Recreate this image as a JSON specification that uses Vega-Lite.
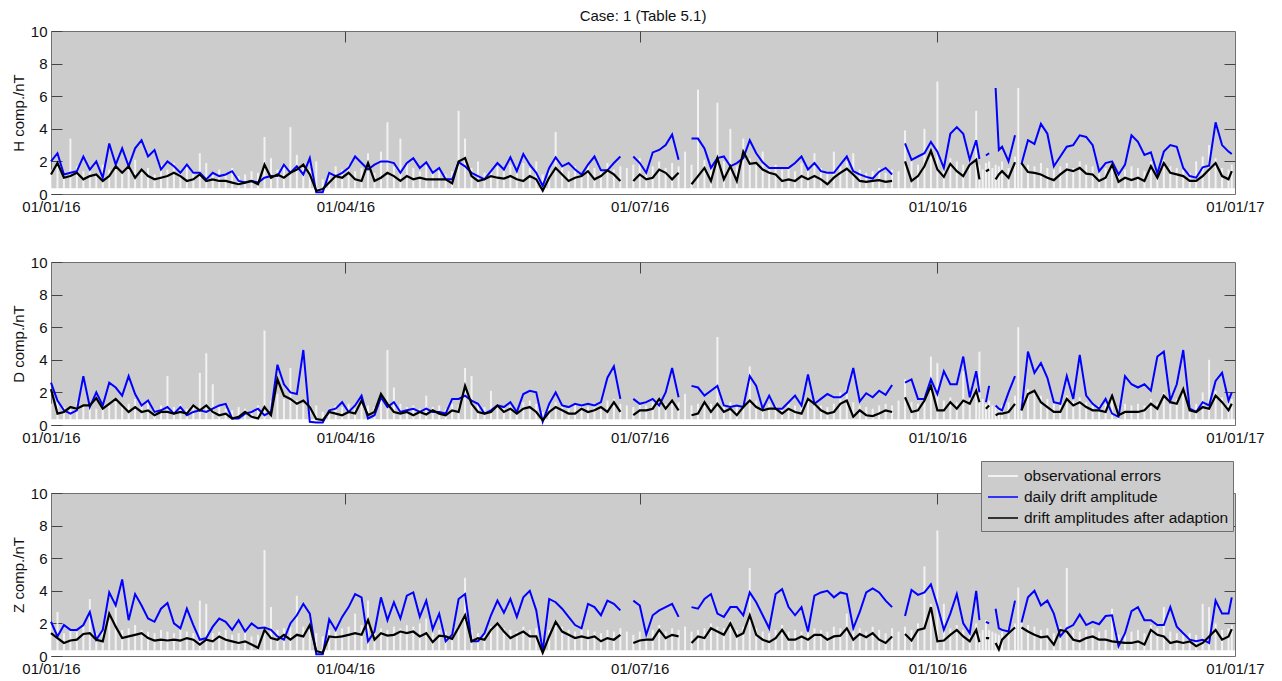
{
  "$schema": "https://vega.github.io/schema/vega-lite/v6.json",
  "background": "white",
  "padding": {"left": 10, "top": 8, "right": 5, "bottom": 5},
  "bounds": "flush",
  "spacing": 68,
  "config": {
    "font": "Liberation Sans",
    "view": {"fill": "#cccccc", "stroke": "#707070", "strokeWidth": 1},
    "axis": {"labelFont": "Liberation Sans", "labelFontSize": 15, "labelColor": "#111111", "titleFont": "Liberation Sans", "titleFontSize": 15, "titleFontWeight": "normal", "titleColor": "#111111", "tickColor": "#444444", "tickWidth": 1, "grid": false, "domain": false},
    "legend": {"orient": "none", "legendX": 930, "legendY": -32, "fillColor": "#cccccc", "strokeColor": "#707070", "padding": 4, "symbolType": "M-1.5,0H1.5", "symbolSize": 400, "symbolStrokeWidth": 2, "symbolOffset": 7, "labelOffset": 10, "labelLimit": 0, "labelFont": "Liberation Sans", "labelFontSize": 15.5, "labelColor": "#111111", "rowPadding": 1, "cornerRadius": 0}
  },
  "resolve": {"scale": {"color": "independent"}, "legend": {"color": "independent"}},
  "data": {"values": [
    {"d":0,"hB":2.0,"hA":1.2,"hE":1.5,"dB":2.6,"dA":2.2,"dE":1.3,"zB":2.1,"zA":1.4,"zE":2.0},
    {"d":2,"hB":2.5,"hA":1.9,"hE":1.9,"dB":1.5,"dA":0.7,"dE":1.6,"zB":1.2,"zA":1.1,"zE":2.7},
    {"d":4,"hB":1.2,"hA":1.0,"hE":1.3,"dB":0.9,"dA":0.8,"dE":1.1,"zB":1.9,"zA":0.8,"zE":1.4},
    {"d":6,"hB":1.3,"hA":1.1,"hE":3.4,"dB":0.7,"dA":1.1,"dE":1.2,"zB":1.6,"zA":0.95,"zE":1.6},
    {"d":8,"hB":1.4,"hA":1.3,"hE":1.7,"dB":0.9,"dA":1.0,"dE":1.4,"zB":1.6,"zA":1.0,"zE":1.5},
    {"d":10,"hB":2.3,"hA":0.9,"hE":1.4,"dB":3.0,"dA":1.2,"dE":1.2,"zB":1.9,"zA":1.35,"zE":1.8},
    {"d":12,"hB":1.5,"hA":1.1,"hE":1.6,"dB":1.1,"dA":1.2,"dE":1.3,"zB":2.7,"zA":1.4,"zE":3.5},
    {"d":14,"hB":2.0,"hA":1.2,"hE":1.2,"dB":2.0,"dA":1.65,"dE":1.0,"zB":1.0,"zA":1.0,"zE":1.4},
    {"d":16,"hB":1.0,"hA":0.8,"hE":1.8,"dB":1.2,"dA":1.0,"dE":1.4,"zB":1.6,"zA":0.9,"zE":1.5},
    {"d":18,"hB":3.1,"hA":1.1,"hE":1.5,"dB":2.6,"dA":1.3,"dE":1.2,"zB":3.9,"zA":2.6,"zE":2.2},
    {"d":20,"hB":1.8,"hA":1.7,"hE":1.9,"dB":2.3,"dA":1.6,"dE":1.5,"zB":3.1,"zA":1.8,"zE":3.2},
    {"d":22,"hB":2.8,"hA":1.3,"hE":1.3,"dB":1.8,"dA":1.2,"dE":1.1,"zB":4.7,"zA":1.1,"zE":1.6},
    {"d":24,"hB":1.7,"hA":1.7,"hE":1.7,"dB":3.0,"dA":0.8,"dE":1.3,"zB":2.2,"zA":1.2,"zE":1.7},
    {"d":26,"hB":2.8,"hA":1.0,"hE":2.1,"dB":1.9,"dA":1.1,"dE":1.6,"zB":3.8,"zA":1.3,"zE":1.9},
    {"d":28,"hB":3.3,"hA":1.5,"hE":1.4,"dB":1.2,"dA":0.8,"dE":1.2,"zB":3.1,"zA":1.4,"zE":1.6},
    {"d":30,"hB":2.3,"hA":1.1,"hE":1.6,"dB":1.5,"dA":0.9,"dE":1.4,"zB":2.3,"zA":1.1,"zE":1.5},
    {"d":32,"hB":2.7,"hA":0.9,"hE":1.2,"dB":0.8,"dA":0.6,"dE":1.0,"zB":2.1,"zA":0.95,"zE":1.4},
    {"d":34,"hB":1.5,"hA":1.0,"hE":1.8,"dB":0.9,"dA":0.8,"dE":1.2,"zB":2.9,"zA":1.0,"zE":1.6},
    {"d":36,"hB":2.0,"hA":1.1,"hE":1.5,"dB":1.1,"dA":0.8,"dE":3.0,"zB":3.25,"zA":0.95,"zE":1.5},
    {"d":38,"hB":1.7,"hA":1.3,"hE":1.9,"dB":0.7,"dA":0.7,"dE":1.1,"zB":2.0,"zA":1.0,"zE":1.4},
    {"d":40,"hB":1.3,"hA":1.1,"hE":1.3,"dB":1.1,"dA":0.8,"dE":1.3,"zB":1.7,"zA":0.95,"zE":1.6},
    {"d":42,"hB":1.8,"hA":0.8,"hE":1.7,"dB":0.6,"dA":0.7,"dE":1.0,"zB":2.9,"zA":1.1,"zE":1.5},
    {"d":44,"hB":1.3,"hA":0.9,"hE":1.4,"dB":0.8,"dA":1.2,"dE":1.2,"zB":1.9,"zA":1.0,"zE":1.4},
    {"d":46,"hB":1.3,"hA":1.2,"hE":2.5,"dB":0.9,"dA":0.9,"dE":3.2,"zB":1.0,"zA":0.7,"zE":3.4},
    {"d":48,"hB":0.9,"hA":0.8,"hE":1.9,"dB":0.8,"dA":1.2,"dE":4.4,"zB":1.1,"zA":1.0,"zE":3.2},
    {"d":50,"hB":1.3,"hA":0.9,"hE":1.2,"dB":1.0,"dA":0.8,"dE":2.5,"zB":1.8,"zA":0.9,"zE":1.4},
    {"d":52,"hB":1.1,"hA":0.8,"hE":1.5,"dB":1.2,"dA":0.6,"dE":1.1,"zB":2.3,"zA":1.2,"zE":1.5},
    {"d":54,"hB":1.2,"hA":0.8,"hE":1.3,"dB":1.3,"dA":0.7,"dE":1.0,"zB":2.1,"zA":1.0,"zE":1.6},
    {"d":56,"hB":1.4,"hA":0.7,"hE":1.6,"dB":0.4,"dA":0.4,"dE":0.9,"zB":1.6,"zA":0.9,"zE":1.3},
    {"d":58,"hB":0.8,"hA":0.6,"hE":1.1,"dB":0.4,"dA":0.5,"dE":1.1,"zB":2.2,"zA":0.8,"zE":1.4},
    {"d":60,"hB":0.7,"hA":0.7,"hE":1.2,"dB":0.7,"dA":0.8,"dE":1.0,"zB":1.5,"zA":0.9,"zE":1.5},
    {"d":62,"hB":0.8,"hA":0.8,"hE":1.4,"dB":0.8,"dA":0.5,"dE":0.9,"zB":2.0,"zA":0.7,"zE":1.2},
    {"d":64,"hB":0.7,"hA":0.6,"hE":1.3,"dB":1.0,"dA":0.4,"dE":1.2,"zB":1.7,"zA":0.5,"zE":1.3},
    {"d":66,"hB":1.0,"hA":1.8,"hE":3.5,"dB":0.6,"dA":1.1,"dE":5.8,"zB":1.75,"zA":1.6,"zE":6.5},
    {"d":68,"hB":1.1,"hA":1.0,"hE":2.2,"dB":0.8,"dA":0.6,"dE":1.5,"zB":1.6,"zA":1.1,"zE":3.0},
    {"d":70,"hB":1.1,"hA":1.2,"hE":1.5,"dB":3.7,"dA":2.8,"dE":1.9,"zB":1.2,"zA":1.0,"zE":1.6},
    {"d":72,"hB":1.8,"hA":1.0,"hE":1.8,"dB":2.5,"dA":1.8,"dE":1.6,"zB":1.0,"zA":1.3,"zE":1.7},
    {"d":74,"hB":1.3,"hA":1.3,"hE":4.1,"dB":2.0,"dA":1.6,"dE":3.5,"zB":2.0,"zA":1.0,"zE":1.8},
    {"d":76,"hB":1.7,"hA":1.5,"hE":2.4,"dB":1.9,"dA":1.3,"dE":1.5,"zB":2.5,"zA":1.3,"zE":3.7},
    {"d":78,"hB":1.2,"hA":1.8,"hE":1.6,"dB":4.6,"dA":1.5,"dE":1.3,"zB":3.2,"zA":1.2,"zE":1.8},
    {"d":80,"hB":2.2,"hA":1.2,"hE":1.5,"dB":0.2,"dA":1.1,"dE":1.2,"zB":2.6,"zA":1.9,"zE":2.0},
    {"d":82,"hB":0.1,"hA":0.2,"hE":2.0,"dB":0.15,"dA":0.37,"dE":1.2,"zB":0.1,"zA":0.3,"zE":1.4},
    {"d":84,"hB":0.1,"hA":0.3,"hE":0.9,"dB":0.15,"dA":0.3,"dE":0.8,"zB":0.1,"zA":0.2,"zE":1.2},
    {"d":86,"hB":1.3,"hA":0.7,"hE":1.3,"dB":0.9,"dA":0.8,"dE":1.0,"zB":2.25,"zA":1.2,"zE":1.6},
    {"d":88,"hB":1.1,"hA":1.1,"hE":1.7,"dB":1.0,"dA":0.7,"dE":1.2,"zB":1.6,"zA":1.15,"zE":1.5},
    {"d":90,"hB":1.3,"hA":1.0,"hE":1.5,"dB":1.4,"dA":0.6,"dE":1.1,"zB":2.4,"zA":1.2,"zE":1.7},
    {"d":92,"hB":1.6,"hA":1.3,"hE":1.8,"dB":0.8,"dA":0.8,"dE":1.3,"zB":3.0,"zA":1.3,"zE":1.8},
    {"d":94,"hB":2.3,"hA":0.9,"hE":1.4,"dB":1.2,"dA":0.7,"dE":1.0,"zB":3.8,"zA":1.4,"zE":2.6},
    {"d":96,"hB":1.9,"hA":0.8,"hE":1.6,"dB":1.8,"dA":1.5,"dE":1.5,"zB":3.6,"zA":1.3,"zE":1.9},
    {"d":98,"hB":1.5,"hA":1.9,"hE":2.5,"dB":0.4,"dA":0.6,"dE":1.2,"zB":0.9,"zA":2.2,"zE":3.4},
    {"d":100,"hB":1.8,"hA":0.8,"hE":1.3,"dB":0.6,"dA":0.8,"dE":1.1,"zB":1.5,"zA":1.0,"zE":1.5},
    {"d":102,"hB":2.0,"hA":1.0,"hE":2.6,"dB":1.7,"dA":1.9,"dE":1.5,"zB":3.6,"zA":1.4,"zE":1.7},
    {"d":104,"hB":2.0,"hA":1.3,"hE":4.4,"dB":1.1,"dA":1.3,"dE":4.6,"zB":2.2,"zA":1.25,"zE":1.6},
    {"d":106,"hB":1.9,"hA":1.1,"hE":1.7,"dB":1.4,"dA":0.8,"dE":2.3,"zB":3.3,"zA":1.3,"zE":1.8},
    {"d":108,"hB":1.3,"hA":0.8,"hE":3.4,"dB":0.8,"dA":0.7,"dE":1.3,"zB":2.3,"zA":1.5,"zE":1.7},
    {"d":110,"hB":1.9,"hA":1.1,"hE":2.0,"dB":0.9,"dA":0.8,"dE":1.1,"zB":3.7,"zA":1.4,"zE":1.9},
    {"d":112,"hB":2.2,"hA":0.9,"hE":1.6,"dB":1.0,"dA":0.6,"dE":1.2,"zB":3.9,"zA":1.5,"zE":1.8},
    {"d":114,"hB":1.6,"hA":1.0,"hE":1.4,"dB":0.8,"dA":0.8,"dE":1.0,"zB":2.4,"zA":1.2,"zE":2.0},
    {"d":116,"hB":1.95,"hA":0.9,"hE":1.8,"dB":1.0,"dA":0.65,"dE":1.8,"zB":3.4,"zA":1.4,"zE":2.3},
    {"d":118,"hB":1.3,"hA":0.9,"hE":1.3,"dB":0.8,"dA":0.9,"dE":1.1,"zB":1.65,"zA":0.85,"zE":1.4},
    {"d":120,"hB":1.6,"hA":0.9,"hE":1.5,"dB":0.8,"dA":0.7,"dE":1.2,"zB":2.6,"zA":1.25,"zE":1.6},
    {"d":122,"hB":0.9,"hA":0.9,"hE":1.2,"dB":0.7,"dA":0.6,"dE":1.0,"zB":0.9,"zA":1.2,"zE":1.5},
    {"d":124,"hB":0.9,"hA":0.65,"hE":1.4,"dB":1.6,"dA":0.9,"dE":1.3,"zB":1.3,"zA":1.05,"zE":1.4},
    {"d":126,"hB":1.95,"hA":2.0,"hE":5.1,"dB":1.6,"dA":0.8,"dE":1.2,"zB":3.5,"zA":1.75,"zE":1.8},
    {"d":128,"hB":1.7,"hA":2.2,"hE":3.4,"dB":1.8,"dA":2.4,"dE":3.5,"zB":3.8,"zA":2.5,"zE":4.8},
    {"d":130,"hB":1.3,"hA":1.1,"hE":1.6,"dB":1.5,"dA":1.3,"dE":3.0,"zB":0.9,"zA":0.9,"zE":1.6},
    {"d":132,"hB":1.1,"hA":0.8,"hE":2.0,"dB":1.3,"dA":0.8,"dE":1.3,"zB":0.9,"zA":1.1,"zE":1.4},
    {"d":134,"hB":0.9,"hA":0.9,"hE":1.3,"dB":0.7,"dA":0.7,"dE":1.1,"zB":1.4,"zA":1.0,"zE":1.5},
    {"d":136,"hB":1.4,"hA":1.1,"hE":1.5,"dB":0.9,"dA":0.8,"dE":2.1,"zB":2.5,"zA":1.6,"zE":1.8},
    {"d":138,"hB":1.9,"hA":1.0,"hE":1.7,"dB":1.2,"dA":1.2,"dE":1.3,"zB":3.4,"zA":2.0,"zE":2.0},
    {"d":140,"hB":1.5,"hA":0.95,"hE":1.4,"dB":1.1,"dA":0.8,"dE":1.1,"zB":2.65,"zA":1.5,"zE":1.7},
    {"d":142,"hB":2.25,"hA":1.1,"hE":1.8,"dB":1.4,"dA":1.0,"dE":1.2,"zB":3.5,"zA":1.1,"zE":1.6},
    {"d":144,"hB":1.4,"hA":0.9,"hE":1.3,"dB":0.8,"dA":0.7,"dE":1.0,"zB":2.4,"zA":1.3,"zE":1.5},
    {"d":146,"hB":2.45,"hA":0.8,"hE":1.9,"dB":1.9,"dA":1.0,"dE":1.4,"zB":3.6,"zA":1.5,"zE":1.8},
    {"d":148,"hB":1.8,"hA":1.1,"hE":1.6,"dB":2.1,"dA":1.1,"dE":1.5,"zB":4.0,"zA":1.2,"zE":1.6},
    {"d":150,"hB":1.3,"hA":0.9,"hE":2.0,"dB":2.0,"dA":0.8,"dE":1.3,"zB":2.8,"zA":1.2,"zE":1.7},
    {"d":152,"hB":0.5,"hA":0.2,"hE":1.2,"dB":0.2,"dA":0.3,"dE":0.8,"zB":0.3,"zA":0.2,"zE":0.9},
    {"d":154,"hB":1.6,"hA":1.0,"hE":1.5,"dB":1.3,"dA":0.8,"dE":1.2,"zB":3.5,"zA":1.2,"zE":1.6},
    {"d":156,"hB":2.25,"hA":1.6,"hE":3.8,"dB":2.0,"dA":1.1,"dE":1.4,"zB":3.3,"zA":2.1,"zE":2.2},
    {"d":158,"hB":1.7,"hA":1.2,"hE":1.6,"dB":1.2,"dA":0.9,"dE":1.2,"zB":2.9,"zA":1.5,"zE":1.8},
    {"d":160,"hB":1.9,"hA":0.8,"hE":1.4,"dB":1.1,"dA":0.7,"dE":1.1,"zB":2.4,"zA":1.3,"zE":1.6},
    {"d":162,"hB":1.5,"hA":1.0,"hE":1.7,"dB":1.3,"dA":0.7,"dE":1.3,"zB":1.9,"zA":1.1,"zE":1.5},
    {"d":164,"hB":1.2,"hA":1.1,"hE":1.3,"dB":1.2,"dA":1.0,"dE":1.2,"zB":1.7,"zA":1.2,"zE":1.7},
    {"d":166,"hB":1.8,"hA":1.4,"hE":1.8,"dB":1.3,"dA":0.8,"dE":1.1,"zB":3.2,"zA":1.1,"zE":1.6},
    {"d":168,"hB":2.3,"hA":0.9,"hE":1.6,"dB":1.2,"dA":0.9,"dE":1.3,"zB":3.0,"zA":1.2,"zE":1.5},
    {"d":170,"hB":1.45,"hA":1.1,"hE":1.4,"dB":1.4,"dA":1.1,"dE":1.2,"zB":2.5,"zA":0.9,"zE":1.4},
    {"d":172,"hB":1.45,"hA":1.45,"hE":1.9,"dB":2.9,"dA":0.8,"dE":1.5,"zB":3.4,"zA":1.1,"zE":1.6},
    {"d":174,"hB":1.9,"hA":1.2,"hE":1.5,"dB":3.6,"dA":1.4,"dE":1.6,"zB":3.2,"zA":1.0,"zE":1.5},
    {"d":176,"hB":2.3,"hA":0.8,"hE":1.7,"dB":1.6,"dA":0.8,"dE":1.3,"zB":2.8,"zA":1.3,"zE":1.7},
    {"d":178,"hB":null,"hA":null,"hE":1.6,"dB":null,"dA":null,"dE":1.2,"zB":null,"zA":null,"zE":1.5},
    {"d":180,"hB":2.3,"hA":0.8,"hE":1.8,"dB":1.6,"dA":0.6,"dE":1.1,"zB":3.4,"zA":0.8,"zE":1.3},
    {"d":182,"hB":1.9,"hA":1.2,"hE":2.2,"dB":1.3,"dA":0.9,"dE":1.3,"zB":3.1,"zA":0.95,"zE":1.5},
    {"d":184,"hB":1.3,"hA":0.9,"hE":1.5,"dB":1.4,"dA":0.9,"dE":1.2,"zB":1.3,"zA":1.0,"zE":1.4},
    {"d":186,"hB":2.55,"hA":1.0,"hE":1.7,"dB":1.6,"dA":1.0,"dE":1.4,"zB":2.5,"zA":1.0,"zE":1.6},
    {"d":188,"hB":2.7,"hA":1.5,"hE":2.0,"dB":1.2,"dA":1.6,"dE":1.7,"zB":2.8,"zA":1.6,"zE":1.9},
    {"d":190,"hB":3.0,"hA":1.3,"hE":1.6,"dB":2.0,"dA":1.0,"dE":1.3,"zB":3.0,"zA":1.1,"zE":1.5},
    {"d":192,"hB":3.65,"hA":0.9,"hE":1.9,"dB":3.5,"dA":1.5,"dE":1.5,"zB":3.2,"zA":1.3,"zE":1.7},
    {"d":194,"hB":2.1,"hA":1.3,"hE":1.7,"dB":1.7,"dA":0.9,"dE":1.4,"zB":2.4,"zA":1.2,"zE":1.6},
    {"d":196,"hB":null,"hA":null,"hE":2.6,"dB":null,"dA":null,"dE":1.9,"zB":null,"zA":null,"zE":1.8},
    {"d":198,"hB":3.4,"hA":0.6,"hE":1.8,"dB":2.4,"dA":0.6,"dE":1.2,"zB":3.0,"zA":0.8,"zE":1.5},
    {"d":200,"hB":3.4,"hA":1.1,"hE":6.4,"dB":2.3,"dA":0.7,"dE":1.3,"zB":2.9,"zA":1.2,"zE":1.6},
    {"d":202,"hB":2.8,"hA":1.6,"hE":2.1,"dB":1.8,"dA":1.4,"dE":1.5,"zB":3.5,"zA":1.1,"zE":1.7},
    {"d":204,"hB":1.6,"hA":0.8,"hE":1.6,"dB":2.1,"dA":0.8,"dE":1.3,"zB":3.8,"zA":1.7,"zE":2.0},
    {"d":206,"hB":2.2,"hA":2.2,"hE":5.6,"dB":2.4,"dA":1.3,"dE":5.4,"zB":2.6,"zA":1.5,"zE":1.8},
    {"d":208,"hB":2.3,"hA":0.9,"hE":2.0,"dB":1.2,"dA":0.8,"dE":1.2,"zB":2.4,"zA":1.3,"zE":1.7},
    {"d":210,"hB":1.7,"hA":1.7,"hE":4.0,"dB":1.1,"dA":1.0,"dE":1.4,"zB":3.0,"zA":2.0,"zE":2.2},
    {"d":212,"hB":1.9,"hA":0.8,"hE":1.7,"dB":1.2,"dA":0.6,"dE":1.1,"zB":3.0,"zA":1.2,"zE":1.6},
    {"d":214,"hB":2.2,"hA":2.6,"hE":3.4,"dB":1.1,"dA":1.1,"dE":1.3,"zB":2.5,"zA":1.4,"zE":1.8},
    {"d":216,"hB":3.3,"hA":1.85,"hE":2.2,"dB":3.0,"dA":1.5,"dE":3.6,"zB":3.9,"zA":2.5,"zE":5.4},
    {"d":218,"hB":2.5,"hA":1.9,"hE":1.9,"dB":2.4,"dA":1.1,"dE":1.5,"zB":3.3,"zA":1.3,"zE":1.7},
    {"d":220,"hB":1.95,"hA":1.5,"hE":2.6,"dB":1.0,"dA":0.9,"dE":1.2,"zB":2.5,"zA":1.0,"zE":1.5},
    {"d":222,"hB":1.6,"hA":1.3,"hE":1.6,"dB":1.8,"dA":1.0,"dE":1.3,"zB":1.7,"zA":0.85,"zE":1.4},
    {"d":224,"hB":1.6,"hA":1.2,"hE":1.8,"dB":1.0,"dA":1.0,"dE":1.2,"zB":3.8,"zA":1.1,"zE":1.6},
    {"d":226,"hB":1.6,"hA":0.8,"hE":1.5,"dB":1.0,"dA":0.7,"dE":1.1,"zB":4.1,"zA":1.6,"zE":1.9},
    {"d":228,"hB":1.6,"hA":0.9,"hE":1.7,"dB":1.4,"dA":1.0,"dE":1.3,"zB":3.0,"zA":1.0,"zE":1.5},
    {"d":230,"hB":1.9,"hA":0.8,"hE":1.4,"dB":1.8,"dA":0.8,"dE":1.2,"zB":2.5,"zA":1.0,"zE":1.6},
    {"d":232,"hB":2.3,"hA":1.1,"hE":1.9,"dB":1.2,"dA":0.7,"dE":1.1,"zB":3.0,"zA":1.2,"zE":1.5},
    {"d":234,"hB":1.5,"hA":0.9,"hE":1.5,"dB":3.1,"dA":1.6,"dE":1.6,"zB":1.5,"zA":1.0,"zE":1.4},
    {"d":236,"hB":1.9,"hA":1.1,"hE":2.5,"dB":1.3,"dA":1.3,"dE":1.4,"zB":3.7,"zA":1.3,"zE":1.7},
    {"d":238,"hB":1.4,"hA":0.9,"hE":1.6,"dB":1.6,"dA":0.9,"dE":1.2,"zB":3.9,"zA":1.3,"zE":1.6},
    {"d":240,"hB":1.3,"hA":0.6,"hE":1.4,"dB":1.9,"dA":0.7,"dE":1.1,"zB":4.0,"zA":1.0,"zE":1.5},
    {"d":242,"hB":1.3,"hA":1.0,"hE":2.6,"dB":1.7,"dA":0.8,"dE":1.3,"zB":3.6,"zA":1.2,"zE":1.8},
    {"d":244,"hB":1.8,"hA":1.3,"hE":1.7,"dB":1.7,"dA":1.3,"dE":2.0,"zB":3.9,"zA":1.25,"zE":1.7},
    {"d":246,"hB":2.3,"hA":1.55,"hE":2.0,"dB":2.0,"dA":1.5,"dE":2.3,"zB":3.8,"zA":1.7,"zE":2.6},
    {"d":248,"hB":1.4,"hA":1.2,"hE":2.5,"dB":3.5,"dA":0.5,"dE":1.4,"zB":1.7,"zA":1.0,"zE":1.6},
    {"d":250,"hB":1.2,"hA":0.8,"hE":1.5,"dB":1.45,"dA":0.9,"dE":1.2,"zB":2.7,"zA":1.35,"zE":1.7},
    {"d":252,"hB":1.05,"hA":0.75,"hE":1.3,"dB":1.95,"dA":0.6,"dE":1.1,"zB":3.9,"zA":1.15,"zE":1.5},
    {"d":254,"hB":0.95,"hA":0.8,"hE":1.4,"dB":1.7,"dA":0.55,"dE":1.0,"zB":4.15,"zA":1.4,"zE":1.8},
    {"d":256,"hB":1.37,"hA":0.85,"hE":1.6,"dB":2.1,"dA":0.7,"dE":1.2,"zB":3.9,"zA":1.0,"zE":1.6},
    {"d":258,"hB":1.6,"hA":0.75,"hE":1.3,"dB":1.85,"dA":0.9,"dE":1.3,"zB":3.4,"zA":0.8,"zE":1.4},
    {"d":260,"hB":1.2,"hA":0.8,"hE":1.5,"dB":2.45,"dA":0.8,"dE":1.2,"zB":3.0,"zA":1.2,"zE":1.7},
    {"d":262,"hB":null,"hA":null,"hE":1.4,"dB":null,"dA":null,"dE":1.5,"zB":null,"zA":null,"zE":1.5},
    {"d":264,"hB":3.1,"hA":2.0,"hE":3.9,"dB":2.6,"dA":1.7,"dE":2.8,"zB":2.45,"zA":1.35,"zE":1.8},
    {"d":266,"hB":2.1,"hA":0.8,"hE":2.0,"dB":2.8,"dA":0.8,"dE":1.4,"zB":4.05,"zA":0.95,"zE":1.6},
    {"d":268,"hB":2.3,"hA":1.1,"hE":1.8,"dB":1.6,"dA":0.9,"dE":1.3,"zB":3.75,"zA":1.6,"zE":2.0},
    {"d":270,"hB":2.5,"hA":1.7,"hE":4.0,"dB":1.6,"dA":1.5,"dE":1.8,"zB":3.9,"zA":1.7,"zE":5.5},
    {"d":272,"hB":3.2,"hA":2.65,"hE":2.3,"dB":2.8,"dA":2.4,"dE":4.2,"zB":4.4,"zA":3.0,"zE":3.2},
    {"d":274,"hB":2.6,"hA":1.5,"hE":6.9,"dB":1.9,"dA":0.9,"dE":3.8,"zB":3.1,"zA":0.9,"zE":7.7},
    {"d":276,"hB":1.6,"hA":1.05,"hE":1.9,"dB":3.3,"dA":0.9,"dE":1.5,"zB":1.6,"zA":0.95,"zE":3.2},
    {"d":278,"hB":3.7,"hA":1.85,"hE":2.2,"dB":2.5,"dA":1.4,"dE":1.7,"zB":2.6,"zA":1.3,"zE":1.7},
    {"d":280,"hB":4.1,"hA":1.4,"hE":2.0,"dB":2.5,"dA":1.0,"dE":1.4,"zB":3.8,"zA":1.6,"zE":1.9},
    {"d":282,"hB":3.7,"hA":1.1,"hE":1.8,"dB":4.2,"dA":1.5,"dE":3.3,"zB":2.0,"zA":1.2,"zE":1.6},
    {"d":284,"hB":2.1,"hA":1.8,"hE":2.4,"dB":1.7,"dA":1.3,"dE":1.6,"zB":1.4,"zA":0.9,"zE":1.5},
    {"d":286,"hB":3.3,"hA":2.1,"hE":5.1,"dB":3.3,"dA":2.1,"dE":2.0,"zB":4.0,"zA":1.6,"zE":2.0},
    {"d":287,"hB":2.15,"hA":0.9,"hE":1.8,"dB":2.0,"dA":1.4,"dE":4.5,"zB":2.2,"zA":0.85,"zE":1.4},
    {"d":288,"hB":null,"hA":null,"hE":1.5,"dB":null,"dA":null,"dE":1.6,"zB":null,"zA":null,"zE":1.6},
    {"d":289,"hB":2.36,"hA":1.4,"hE":1.9,"dB":1.4,"dA":1.0,"dE":1.3,"zB":2.1,"zA":1.1,"zE":2.2},
    {"d":290,"hB":2.5,"hA":1.5,"hE":2.0,"dB":2.4,"dA":1.2,"dE":1.5,"zB":2.0,"zA":1.1,"zE":1.6},
    {"d":291,"hB":null,"hA":null,"hE":1.6,"dB":null,"dA":null,"dE":1.2,"zB":null,"zA":null,"zE":1.5},
    {"d":292,"hB":6.5,"hA":0.9,"hE":1.8,"dB":1.2,"dA":0.6,"dE":1.1,"zB":2.9,"zA":0.8,"zE":1.4},
    {"d":293,"hB":2.7,"hA":1.2,"hE":1.7,"dB":1.0,"dA":0.7,"dE":1.0,"zB":1.7,"zA":0.4,"zE":1.3},
    {"d":294,"hB":2.9,"hA":1.4,"hE":2.0,"dB":0.9,"dA":0.7,"dE":1.2,"zB":1.6,"zA":1.0,"zE":1.5},
    {"d":296,"hB":2.0,"hA":1.0,"hE":1.6,"dB":2.0,"dA":0.8,"dE":1.4,"zB":1.5,"zA":1.4,"zE":1.7},
    {"d":298,"hB":3.6,"hA":1.95,"hE":2.3,"dB":3.0,"dA":1.3,"dE":1.8,"zB":3.4,"zA":1.75,"zE":2.0},
    {"d":299,"hB":null,"hA":null,"hE":6.5,"dB":null,"dA":null,"dE":6.0,"zB":null,"zA":null,"zE":4.2},
    {"d":300,"hB":1.84,"hA":1.9,"hE":2.0,"dB":0.9,"dA":0.9,"dE":1.6,"zB":2.05,"zA":1.75,"zE":2.2},
    {"d":302,"hB":3.3,"hA":1.35,"hE":1.8,"dB":4.5,"dA":1.9,"dE":2.2,"zB":3.6,"zA":1.5,"zE":1.9},
    {"d":304,"hB":3.07,"hA":1.3,"hE":1.7,"dB":3.2,"dA":2.1,"dE":2.0,"zB":4.0,"zA":1.3,"zE":1.8},
    {"d":306,"hB":4.3,"hA":1.2,"hE":1.9,"dB":3.8,"dA":1.4,"dE":1.8,"zB":3.1,"zA":1.15,"zE":1.6},
    {"d":308,"hB":3.7,"hA":1.0,"hE":1.6,"dB":2.9,"dA":1.1,"dE":1.6,"zB":3.4,"zA":1.2,"zE":1.7},
    {"d":310,"hB":1.7,"hA":0.85,"hE":1.5,"dB":1.4,"dA":0.8,"dE":1.3,"zB":2.6,"zA":0.7,"zE":1.4},
    {"d":312,"hB":2.3,"hA":1.2,"hE":1.7,"dB":1.3,"dA":0.8,"dE":1.2,"zB":1.2,"zA":1.6,"zE":1.8},
    {"d":314,"hB":2.9,"hA":1.5,"hE":1.9,"dB":3.0,"dA":1.6,"dE":1.8,"zB":1.7,"zA":1.5,"zE":5.4},
    {"d":316,"hB":3.0,"hA":1.4,"hE":1.6,"dB":1.6,"dA":1.2,"dE":1.5,"zB":1.9,"zA":1.0,"zE":1.6},
    {"d":318,"hB":3.6,"hA":1.6,"hE":2.0,"dB":4.3,"dA":1.4,"dE":1.7,"zB":2.55,"zA":0.9,"zE":1.5},
    {"d":320,"hB":3.5,"hA":1.25,"hE":1.8,"dB":1.8,"dA":1.1,"dE":1.4,"zB":1.9,"zA":1.1,"zE":1.6},
    {"d":322,"hB":3.0,"hA":1.2,"hE":1.7,"dB":1.3,"dA":0.9,"dE":1.3,"zB":2.1,"zA":1.2,"zE":1.7},
    {"d":324,"hB":1.4,"hA":0.8,"hE":1.4,"dB":1.0,"dA":0.9,"dE":1.2,"zB":1.95,"zA":1.0,"zE":1.5},
    {"d":326,"hB":1.9,"hA":1.0,"hE":1.6,"dB":1.6,"dA":0.8,"dE":1.3,"zB":2.45,"zA":1.0,"zE":1.6},
    {"d":328,"hB":2.0,"hA":1.8,"hE":2.1,"dB":0.7,"dA":1.8,"dE":2.0,"zB":2.5,"zA":0.9,"zE":2.9},
    {"d":330,"hB":1.2,"hA":0.75,"hE":1.3,"dB":0.5,"dA":0.6,"dE":1.1,"zB":0.6,"zA":0.85,"zE":1.3},
    {"d":332,"hB":1.8,"hA":1.0,"hE":1.5,"dB":3.0,"dA":0.8,"dE":1.3,"zB":1.4,"zA":0.8,"zE":1.4},
    {"d":334,"hB":3.6,"hA":0.85,"hE":1.7,"dB":2.5,"dA":0.8,"dE":1.2,"zB":2.75,"zA":0.8,"zE":1.5},
    {"d":336,"hB":3.2,"hA":1.0,"hE":1.6,"dB":2.3,"dA":0.8,"dE":1.3,"zB":3.0,"zA":0.9,"zE":1.6},
    {"d":338,"hB":2.4,"hA":0.8,"hE":1.4,"dB":2.5,"dA":0.9,"dE":1.2,"zB":2.2,"zA":0.7,"zE":1.4},
    {"d":340,"hB":2.56,"hA":1.7,"hE":2.0,"dB":2.1,"dA":1.3,"dE":1.6,"zB":2.2,"zA":1.6,"zE":1.9},
    {"d":342,"hB":1.25,"hA":1.0,"hE":1.5,"dB":4.2,"dA":1.0,"dE":1.4,"zB":1.9,"zA":1.3,"zE":1.7},
    {"d":344,"hB":2.6,"hA":1.9,"hE":2.1,"dB":4.5,"dA":1.8,"dE":2.0,"zB":1.9,"zA":1.2,"zE":3.0},
    {"d":346,"hB":3.0,"hA":1.3,"hE":1.7,"dB":1.5,"dA":1.4,"dE":1.7,"zB":3.0,"zA":0.8,"zE":1.5},
    {"d":348,"hB":2.9,"hA":1.2,"hE":1.6,"dB":2.5,"dA":1.3,"dE":1.6,"zB":1.8,"zA":0.9,"zE":1.4},
    {"d":350,"hB":1.6,"hA":1.1,"hE":1.5,"dB":4.6,"dA":2.2,"dE":2.3,"zB":1.4,"zA":0.8,"zE":1.5},
    {"d":352,"hB":1.1,"hA":0.8,"hE":1.3,"dB":1.0,"dA":0.9,"dE":1.4,"zB":1.0,"zA":0.9,"zE":1.4},
    {"d":354,"hB":1.0,"hA":0.8,"hE":2.0,"dB":0.8,"dA":0.8,"dE":1.3,"zB":0.9,"zA":0.6,"zE":1.3},
    {"d":356,"hB":1.64,"hA":1.1,"hE":2.3,"dB":1.4,"dA":1.1,"dE":2.0,"zB":1.0,"zA":0.8,"zE":3.2},
    {"d":358,"hB":1.74,"hA":1.5,"hE":3.0,"dB":1.2,"dA":1.0,"dE":4.0,"zB":0.8,"zA":1.2,"zE":3.0},
    {"d":360,"hB":4.4,"hA":1.9,"hE":2.2,"dB":2.7,"dA":1.8,"dE":2.1,"zB":3.4,"zA":1.6,"zE":2.0},
    {"d":362,"hB":3.0,"hA":1.1,"hE":1.6,"dB":3.2,"dA":1.4,"dE":1.7,"zB":2.6,"zA":1.0,"zE":1.6},
    {"d":364,"hB":2.6,"hA":0.9,"hE":1.5,"dB":1.5,"dA":0.9,"dE":1.4,"zB":2.6,"zA":1.2,"zE":1.7},
    {"d":365,"hB":2.45,"hA":1.4,"hE":1.8,"dB":2.0,"dA":1.3,"dE":1.6,"zB":3.6,"zA":1.65,"zE":1.9}
  ]},
  "vconcat": [
    {
      "width": 1184, "height": 163,
      "title": {"text": "Case: 1 (Table 5.1)", "fontSize": 15, "fontWeight": "normal", "font": "Liberation Sans", "color": "#111111", "anchor": "middle", "frame": "group", "offset": 0},
      "layer": [
        {"data": {"values": [{}]}, "mark": {"type": "rect", "color": "#ffffff"}, "encoding": {"y": {"datum": 0, "type": "quantitative", "scale": {"domain": [0, 10], "nice": false}, "axis": null}, "y2": {"datum": 0.35}}},
        {"mark": {"type": "rule", "strokeWidth": 2, "opacity": 0.75}, "encoding": {
          "x": {"field": "d", "type": "quantitative", "scale": {"domain": [0, 366], "nice": false, "zero": false}, "axis": {"orient": "bottom", "values": [0, 91, 182, 274, 366], "labelExpr": "datum.value == 0 ? '01/01/16' : datum.value == 91 ? '01/04/16' : datum.value == 182 ? '01/07/16' : datum.value == 274 ? '01/10/16' : '01/01/17'", "labelFlush": false, "ticks": false, "labelPadding": 5, "title": null}},
          "y": {"field": "hE", "type": "quantitative", "scale": {"domain": [0, 10], "nice": false}, "axis": {"orient": "left", "values": [0, 2, 4, 6, 8, 10], "tickSize": -11, "labelPadding": 15, "title": "H comp./nT", "titlePadding": 4}},
          "y2": {"datum": 0},
          "color": {"datum": "observational errors", "scale": {"domain": ["observational errors", "daily drift amplitude", "drift amplitudes after adaption"], "range": ["#ffffff", "#0000ff", "#000000"]}, "legend": null}}},
        {"mark": {"type": "line", "strokeWidth": 2}, "encoding": {
          "x": {"field": "d", "type": "quantitative", "axis": {"orient": "top", "values": [91, 182, 274], "labels": false, "tickSize": -11, "title": null}},
          "y": {"field": "hB", "type": "quantitative", "axis": {"orient": "right", "values": [2, 4, 6, 8], "labels": false, "tickSize": -11, "title": null}},
          "color": {"datum": "daily drift amplitude", "legend": null}}},
        {"mark": {"type": "line", "strokeWidth": 2.2}, "encoding": {
          "x": {"field": "d", "type": "quantitative", "axis": null},
          "y": {"field": "hA", "type": "quantitative", "axis": null},
          "color": {"datum": "drift amplitudes after adaption", "legend": null}}}
      ],
      "resolve": {"axis": {"x": "independent", "y": "independent"}}
    },
    {
      "width": 1184, "height": 163,
      "layer": [
        {"data": {"values": [{}]}, "mark": {"type": "rect", "color": "#ffffff"}, "encoding": {"y": {"datum": 0, "type": "quantitative", "scale": {"domain": [0, 10], "nice": false}, "axis": null}, "y2": {"datum": 0.35}}},
        {"mark": {"type": "rule", "strokeWidth": 2, "opacity": 0.75}, "encoding": {
          "x": {"field": "d", "type": "quantitative", "scale": {"domain": [0, 366], "nice": false, "zero": false}, "axis": {"orient": "bottom", "values": [0, 91, 182, 274, 366], "labelExpr": "datum.value == 0 ? '01/01/16' : datum.value == 91 ? '01/04/16' : datum.value == 182 ? '01/07/16' : datum.value == 274 ? '01/10/16' : '01/01/17'", "labelFlush": false, "ticks": false, "labelPadding": 5, "title": null}},
          "y": {"field": "dE", "type": "quantitative", "scale": {"domain": [0, 10], "nice": false}, "axis": {"orient": "left", "values": [0, 2, 4, 6, 8, 10], "tickSize": -11, "labelPadding": 15, "title": "D comp./nT", "titlePadding": 4}},
          "y2": {"datum": 0},
          "color": {"datum": "observational errors", "scale": {"domain": ["observational errors", "daily drift amplitude", "drift amplitudes after adaption"], "range": ["#ffffff", "#0000ff", "#000000"]}, "legend": null}}},
        {"mark": {"type": "line", "strokeWidth": 2}, "encoding": {
          "x": {"field": "d", "type": "quantitative", "axis": {"orient": "top", "values": [91, 182, 274], "labels": false, "tickSize": -11, "title": null}},
          "y": {"field": "dB", "type": "quantitative", "axis": {"orient": "right", "values": [2, 4, 6, 8], "labels": false, "tickSize": -11, "title": null}},
          "color": {"datum": "daily drift amplitude", "legend": null}}},
        {"mark": {"type": "line", "strokeWidth": 2.2}, "encoding": {
          "x": {"field": "d", "type": "quantitative", "axis": null},
          "y": {"field": "dA", "type": "quantitative", "axis": null},
          "color": {"datum": "drift amplitudes after adaption", "legend": null}}}
      ],
      "resolve": {"axis": {"x": "independent", "y": "independent"}}
    },
    {
      "width": 1184, "height": 163,
      "layer": [
        {"data": {"values": [{}]}, "mark": {"type": "rect", "color": "#ffffff"}, "encoding": {"y": {"datum": 0, "type": "quantitative", "scale": {"domain": [0, 10], "nice": false}, "axis": null}, "y2": {"datum": 0.35}}},
        {"mark": {"type": "rule", "strokeWidth": 2, "opacity": 0.75}, "encoding": {
          "x": {"field": "d", "type": "quantitative", "scale": {"domain": [0, 366], "nice": false, "zero": false}, "axis": {"orient": "bottom", "values": [0, 91, 182, 274, 366], "labelExpr": "datum.value == 0 ? '01/01/16' : datum.value == 91 ? '01/04/16' : datum.value == 182 ? '01/07/16' : datum.value == 274 ? '01/10/16' : '01/01/17'", "labelFlush": false, "ticks": false, "labelPadding": 5, "title": null}},
          "y": {"field": "zE", "type": "quantitative", "scale": {"domain": [0, 10], "nice": false}, "axis": {"orient": "left", "values": [0, 2, 4, 6, 8, 10], "tickSize": -11, "labelPadding": 15, "title": "Z comp./nT", "titlePadding": 4}},
          "y2": {"datum": 0},
          "color": {"datum": "observational errors", "scale": {"domain": ["observational errors", "daily drift amplitude", "drift amplitudes after adaption"], "range": ["#ffffff", "#0000ff", "#000000"]}, "legend": {"title": null}}}},
        {"mark": {"type": "line", "strokeWidth": 2}, "encoding": {
          "x": {"field": "d", "type": "quantitative", "axis": {"orient": "top", "values": [91, 182, 274], "labels": false, "tickSize": -11, "title": null}},
          "y": {"field": "zB", "type": "quantitative", "axis": {"orient": "right", "values": [2, 4, 6, 8], "labels": false, "tickSize": -11, "title": null}},
          "color": {"datum": "daily drift amplitude", "legend": {"title": null}}}},
        {"mark": {"type": "line", "strokeWidth": 2.2}, "encoding": {
          "x": {"field": "d", "type": "quantitative", "axis": null},
          "y": {"field": "zA", "type": "quantitative", "axis": null},
          "color": {"datum": "drift amplitudes after adaption", "legend": {"title": null}}}}
      ],
      "resolve": {"axis": {"x": "independent", "y": "independent"}}
    }
  ]
}
